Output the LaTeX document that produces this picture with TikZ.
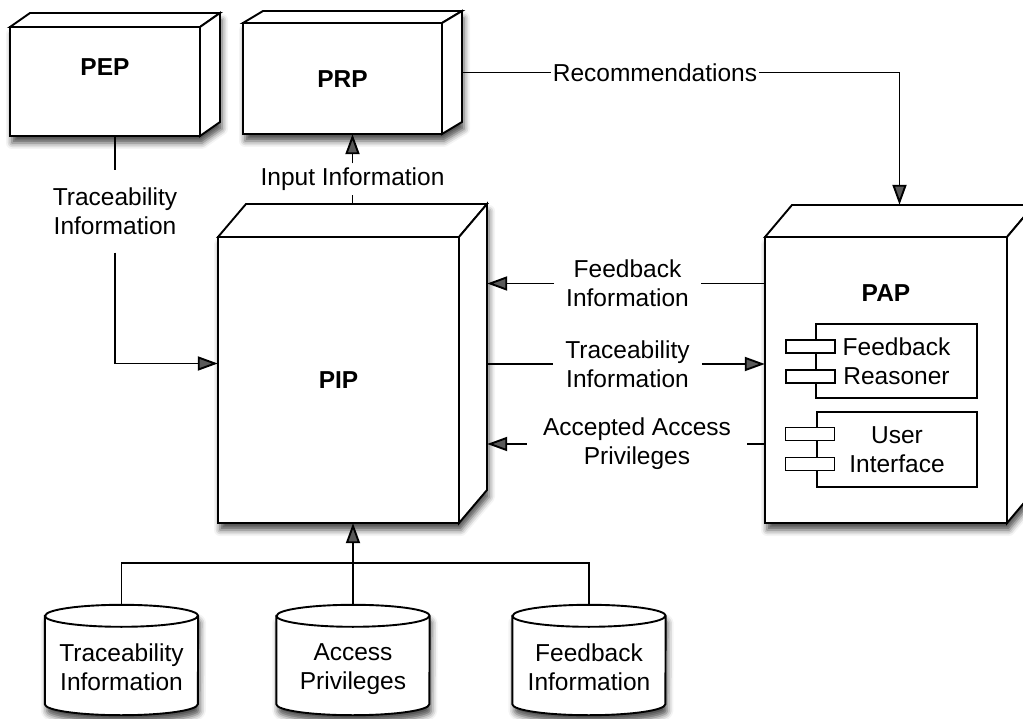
\documentclass[tikz,border=0pt]{standalone}
\usepackage{fontspec}
\setmainfont{Liberation Sans}
\usetikzlibrary{arrows.meta,calc,fit,shadows.blur}

\tikzset{
  ink/.style={line width=1.9pt, line join=miter},
  face/.style={ink, draw=black, fill=white},
  conn/.style={line width=1.9pt},
  arr/.style={conn, -{Triangle[length=20pt,width=14pt]}},
  softshadow/.style={blur shadow={shadow xshift=2pt, shadow yshift=-7pt,
      shadow blur radius=6pt, shadow opacity=70}},
  txt/.style={font=\fontsize{24.5}{29}\selectfont, align=center},
  lbl/.style={txt, inner sep=0pt},
  title/.style={font=\fontsize{24.5}{29}\selectfont\bfseries, inner sep=0pt},
  comp/.style={face, txt, inner sep=0pt},
  port/.style={face, minimum width=49pt, minimum height=13pt, inner sep=0pt},
  dbbody/.style={inner sep=0pt, minimum width=153pt, minimum height=88pt},
}

% 3-D node box: name, front x1, front y1, front x2, front y2, depth dx, depth dy
\newcommand\solidbox[7]{%
  \path[softshadow, fill=white] (#2,#3) -- (#2+#6,#3-#7) -- (#4+#6,#3-#7)
     -- (#4+#6,#5-#7) -- (#4,#5) -- (#2,#5) -- cycle;
  \draw[face] (#2,#3) -- (#2+#6,#3-#7) -- (#4+#6,#3-#7) -- (#4,#3) -- cycle;
  \draw[face] (#4,#3) -- (#4+#6,#3-#7) -- (#4+#6,#5-#7) -- (#4,#5) -- cycle;
  \draw[face] (#2,#3) rectangle (#4,#5);
  \coordinate (#1-nw) at (#2,#3-#7);
  \coordinate (#1-se) at (#4+#6,#5);
  \node[fit=(#1-nw)(#1-se), inner sep=0pt] (#1) {};
}

% database cylinder: name, centre x, text
\newcommand\dbcyl[3]{%
  \node[dbbody] (#1) at (#2,660) {};
  \draw[face, softshadow] (#1.north west) -- (#1.south west)
     arc[start angle=180, end angle=360, x radius=76.5pt, y radius=11pt]
     -- (#1.north east)
     arc[start angle=0, end angle=180, x radius=76.5pt, y radius=11pt] -- cycle;
  \draw[ink] (#1.north west)
     arc[start angle=180, end angle=360, x radius=76.5pt, y radius=11pt];
  \node[lbl, text depth=0pt] (#1-text) at ([yshift=-7pt]#1.center) {#3};
}

\begin{document}
\begin{tikzpicture}[x=1pt, y=-1pt]
\useasboundingbox (0,0) rectangle (1023,719);

% main components
\solidbox{PEP}{10}{27}{200}{136}{20}{14}
\solidbox{PRP}{243}{23}{442}{134}{20}{12}
\solidbox{PIP}{218}{237}{459}{523}{28}{33}
\solidbox{PAP}{765}{237}{1007}{523}{27}{32}

\node[title] (PEP-title) at (105,67.5) {PEP};
\node[title] (PRP-title) at (342.5,79.5) {PRP};
\node[title] (PIP-title) at (338.5,380) {PIP};
\node[title] (PAP-title) at (886,293) {PAP};

% sub-components of the PAP
\node[comp, minimum width=161pt, minimum height=74pt] (fr) at (896.5,361) {Feedback\\Reasoner};
\node[port] (fr-p1) at (810.5,346.5) {};
\node[port] (fr-p2) at (810.5,376.5) {};
\node[comp, minimum width=160pt, minimum height=75pt] (ui) at (897,449.5) {User\\Interface};
\node[port] (ui-p1) at (810,434) {};
\node[port] (ui-p2) at (810,464) {};

% data stores
\dbcyl{db1}{121.5}{Traceability\\Information}
\dbcyl{db2}{353}{Access\\Privileges}
\dbcyl{db3}{589}{Feedback\\Information}

% connector labels
\node[lbl, inner ysep=17.5pt] (tl1) at (115,211.5) {Traceability\\Information};
\node[lbl, inner ysep=4pt] (inp) at (352.5,179) {Input Information};
\node[lbl, inner xsep=1.5pt] (rec) at (655,72.5) {Recommendations};
\node[lbl, inner xsep=12pt] (fb) at (627.5,283.5) {Feedback\\Information};
\node[lbl, inner xsep=12pt] (tr) at (627.5,364) {Traceability\\Information};
\node[lbl, inner xsep=16pt] (acc) at (637,444) {Accepted Access\\Privileges};

% connectors
\draw[conn] (PEP.south) -- (tl1.north);
\draw[arr] (tl1.south) |- (PIP.west);

\draw[conn] (PIP.north) -- (inp.south);
\draw[arr] (inp.north) -- (PRP.south);

\draw[conn] (PRP.east) -- (rec.west);
\draw[arr] (rec.east) -| (PAP.north);

\draw[conn] (PAP.west |- fb.east) -- (fb.east);
\draw[arr] (fb.west) -- (PIP.east |- fb.west);

\draw[conn] (PIP.east |- tr.west) -- (tr.west);
\draw[arr] (tr.east) -- (PAP.west |- tr.east);

\draw[conn] (PAP.west |- acc.east) -- (acc.east);
\draw[arr] (acc.west) -- (PIP.east |- acc.west);

\coordinate (bus) at (353,563);
\draw[conn] ([yshift=11pt]db1.north) |- (bus) -| ([yshift=11pt]db3.north);
\draw[arr] ([yshift=11pt]db2.north) -- (db2.north |- PIP.south);
\end{tikzpicture}
\end{document}
